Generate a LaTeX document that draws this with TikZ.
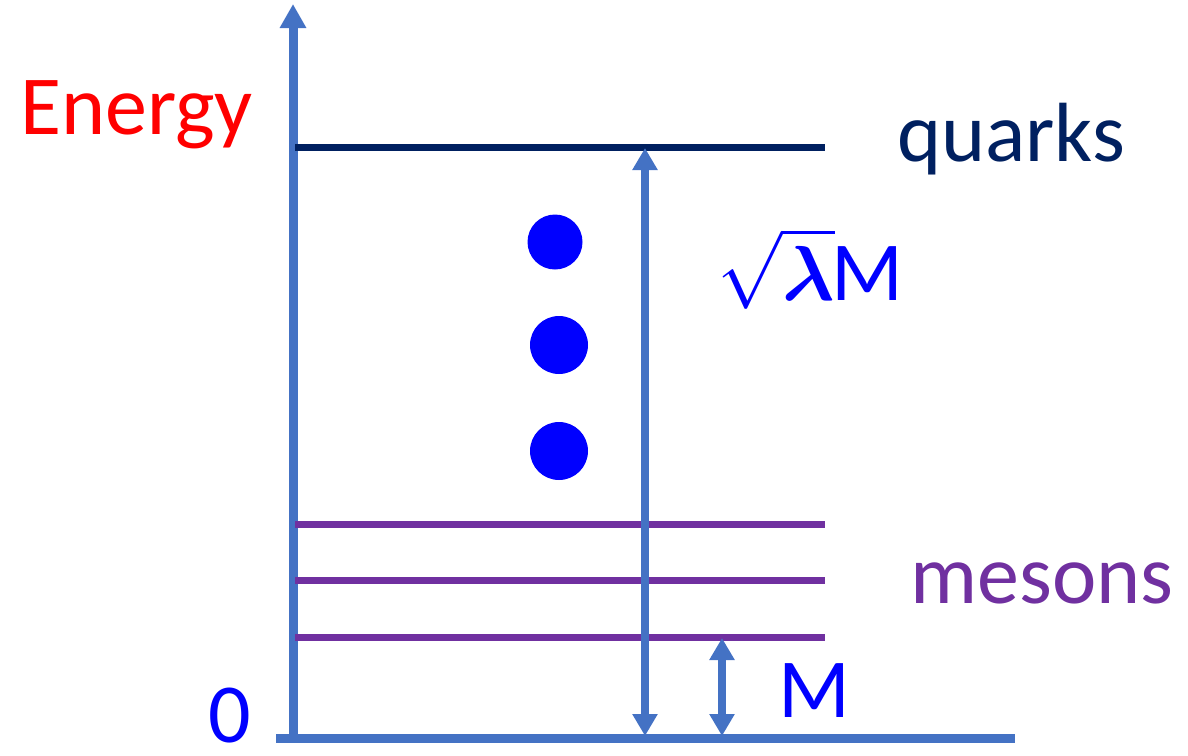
\documentclass[tikz,border=0pt]{standalone}
\usepackage{fontspec}
\usepackage{unicode-math}
\setmainfont{Carlito}
\setmathfont{Latin Modern Math}
\usetikzlibrary{arrows.meta}
\definecolor{axisblue}{HTML}{4472C4}
\definecolor{navy}{HTML}{002060}
\definecolor{mpurple}{HTML}{7030A0}
\definecolor{pblue}{HTML}{0000FF}
\definecolor{ered}{HTML}{FF0000}
\begin{document}
\begin{tikzpicture}[x=1pt,y=-1pt,
  axis/.style={draw=axisblue,line width=9pt},
  level/.style={line width=7pt},
  dim/.style={draw=axisblue,line width=7.5pt,{Triangle[width=24pt,length=22pt]}-{Triangle[width=24pt,length=22pt]}},
  lbl/.style={font=\fontsize{84}{92}\selectfont,inner sep=0pt},
  dot/.style={circle,fill=pblue,inner sep=0pt}]
\useasboundingbox (0,0) rectangle (1188,755);
% coordinates
\coordinate (ybot) at (293,742);
\coordinate (ytop) at (293,4);
\coordinate (xl) at (276,738);
\coordinate (xr) at (1015,738);
\coordinate (q1) at (295,147);
\coordinate (q2) at (825,147);
\coordinate (m1a) at (295,524);
\coordinate (m1b) at (825,524);
\coordinate (m2a) at (295,580);
\coordinate (m2b) at (825,580);
\coordinate (m3a) at (295,637);
\coordinate (m3b) at (825,637);
\coordinate (bigtop) at (645,148);
\coordinate (bigbot) at (645,736);
\coordinate (smtop) at (722,638);
\coordinate (smbot) at (722,736);
% axes
\draw[axis] (xl) -- (xr);
\draw[axis,-{Triangle[width=25pt,length=24pt]}] (ybot) -- (ytop);
% levels
\draw[level,navy] (q1) -- (q2);
\draw[level,mpurple] (m1a) -- (m1b);
\draw[level,mpurple] (m2a) -- (m2b);
\draw[level,mpurple] (m3a) -- (m3b);
% dimension arrows
\draw[dim] (bigbot) -- (bigtop);
\draw[dim] (smbot) -- (smtop);
% dots
\node[dot,minimum size=55pt] (d1) at (555,242) {};
\node[dot,minimum size=58pt] (d2) at (559,345) {};
\node[dot,minimum size=58pt] (d3) at (559,451) {};
% labels
\node[lbl,text=ered,anchor=base west] (energy) at (20,134) {Energy};
\node[lbl,text=navy,anchor=base west] (quarks) at (897,161) {quarks};
\node[lbl,text=mpurple,anchor=base west] (mesons) at (910,603) {mesons};
\node[lbl,text=pblue,anchor=base west] (sqrt) at (717,300) {{\fontsize{78}{90}\selectfont$\sqrt{\symbfit{\lambda}}$}\kern-3pt M};
\node[lbl,text=pblue,anchor=base west] (mlab) at (778,717) {M};
\node[lbl,text=pblue,anchor=base west] (zero) at (208,742) {0};
\end{tikzpicture}
\end{document}
